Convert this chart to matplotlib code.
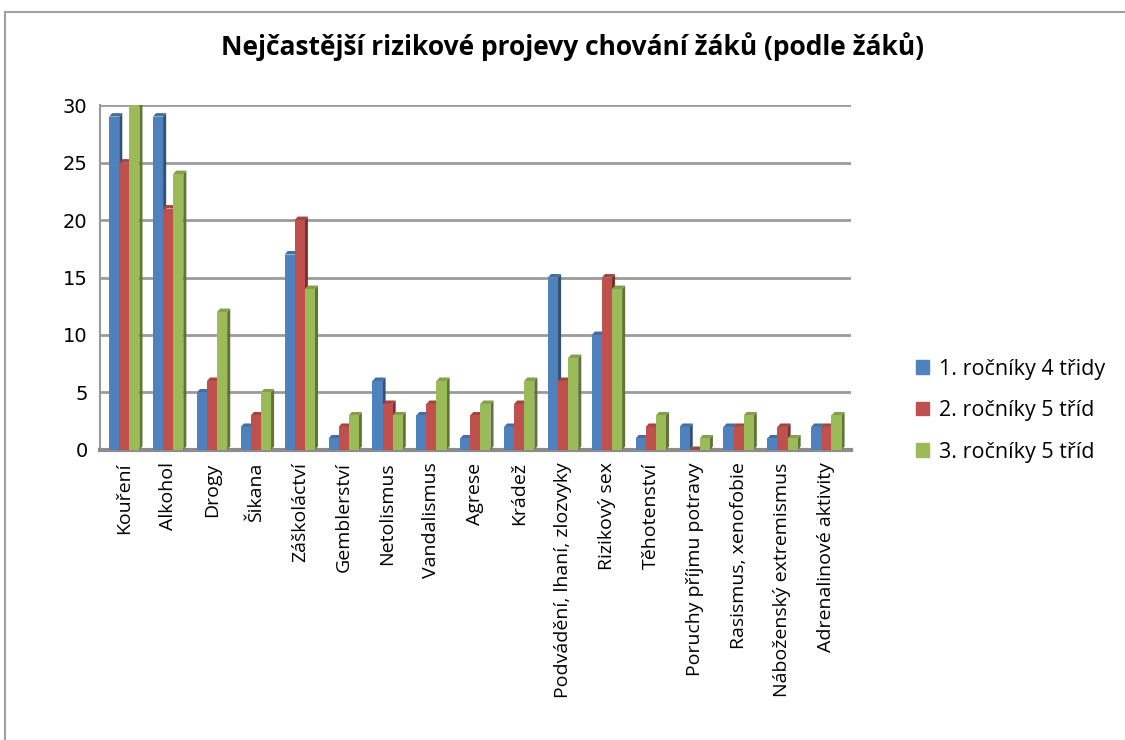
import numpy as np
import matplotlib
matplotlib.use("Agg")
import matplotlib.pyplot as plt
import matplotlib.colors as mcolors
from matplotlib.lines import Line2D
from matplotlib.patches import Patch

categories = ["Kouření", "Alkohol", "Drogy", "Šikana", "Záškoláctví", "Gemblerství",
              "Netolismus", "Vandalismus", "Agrese", "Krádež",
              "Podvádění, lhaní, zlozvyky", "Rizikový sex", "Těhotenství",
              "Poruchy příjmu potravy", "Rasismus, xenofobie",
              "Náboženský extremismus", "Adrenalinové aktivity"]
rocnik1 = [29, 29, 5, 2, 17, 1, 6, 3, 1, 2, 15, 10, 1, 2, 2, 1, 2]
rocnik2 = [25, 21, 6, 3, 20, 2, 4, 4, 3, 4, 6, 15, 2, 0, 2, 2, 2]
rocnik3 = [30, 24, 12, 5, 14, 3, 3, 6, 4, 6, 8, 14, 3, 1, 3, 1, 3]
series_names = ["1. ročníky 4 třidy", "2. ročníky 5 tříd", "3. ročníky 5 tříd"]
colors = ["#4f81bd", "#c0504d", "#9bbb59"]

plt.rcParams['font.family'] = ['Open Sans', 'DejaVu Sans']

fig = plt.figure(figsize=(11.25, 7.4), dpi=100)
ax = fig.add_axes([0.089, 0.392, 0.667, 0.466])

x = np.arange(len(categories))
w = 0.23
dx = 0.07   # depth offset (category units)
dy = 0.3    # depth offset (value units)

for i, (vals, c) in enumerate(zip([rocnik1, rocnik2, rocnik3], colors)):
    dark = np.array(mcolors.to_rgb(c)) * 0.62
    light = np.array(mcolors.to_rgb(c)) * 0.85
    for xi, v in zip(x + (i - 1) * w, vals):
        x0, x1 = xi - w / 2, xi + w / 2
        # side face
        ax.fill([x1, x1 + dx, x1 + dx, x1], [0, dy, v + dy, v], color=dark, lw=0, zorder=3 + i)
        # top face
        ax.fill([x0, x0 + dx, x1 + dx, x1], [v, v + dy, v + dy, v], color=light, lw=0, zorder=3 + i)
        ax.bar(xi, v, width=w, color=c, lw=0, zorder=3 + i)

ax.set_xlim(-0.55, len(categories) - 0.45)
ax.set_ylim(0, 30)
ax.set_yticks(range(0, 31, 5))
ax.set_yticklabels([str(v) for v in range(0, 31, 5)], family='DejaVu Sans', fontsize=14)
ax.tick_params(axis='y', length=0, pad=9)
ax.set_xticks(x)
ax.set_xticklabels(categories, rotation=90, fontsize=14, va='top', ha='center')
ax.tick_params(axis='x', length=0, pad=9)

ax.grid(axis='y', color='#9a9a9a', lw=2, zorder=0)
for s in ['top', 'right']:
    ax.spines[s].set_visible(False)
ax.spines['left'].set_color('#9a9a9a')
ax.spines['left'].set_linewidth(1.5)
ax.spines['bottom'].set_color('#8c8c8c')
ax.spines['bottom'].set_linewidth(3)

ax.set_title("Nejčastější rizikové projevy chování žáků (podle žáků)",
             fontsize=19, fontweight='bold', pad=36, x=0.63)

handles = [Patch(color=c) for c in colors]
fig.legend(handles, series_names, loc='center left', bbox_to_anchor=(0.797, 0.445),
           frameon=False, fontsize=15.5, handlelength=0.6, handleheight=0.6,
           labelspacing=0.95, handletextpad=0.45)

# chart area border
fig.add_artist(Line2D([0.004, 0.004], [0, 0.984], color='#a0a0a0', lw=1.5))
fig.add_artist(Line2D([0.004, 1.0], [0.984, 0.984], color='#a0a0a0', lw=1.5))

fig.savefig("out.png", dpi=100)
